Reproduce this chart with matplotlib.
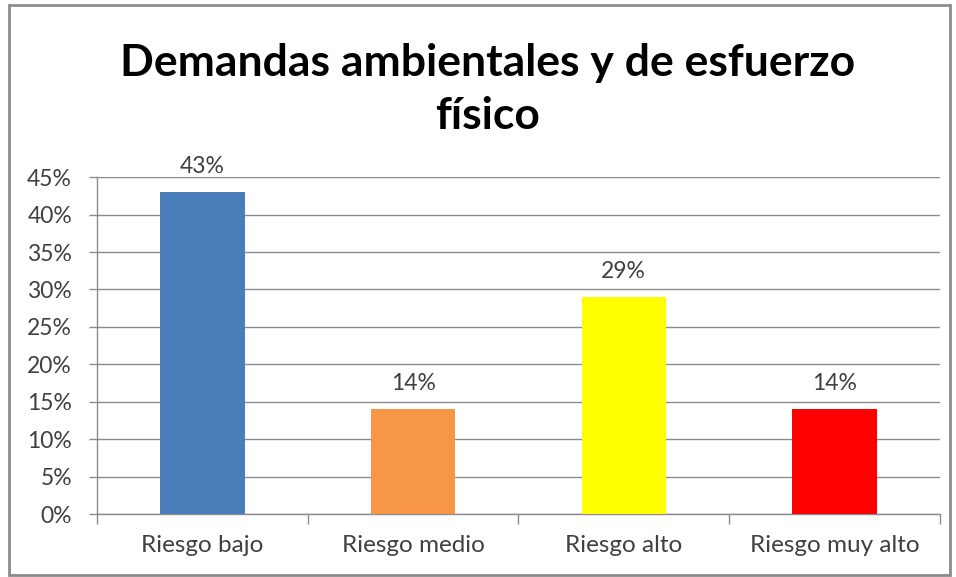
import matplotlib.pyplot as plt
from matplotlib.patches import Rectangle

categories = ["Riesgo bajo", "Riesgo medio", "Riesgo alto", "Riesgo muy alto"]
values = [43, 14, 29, 14]
colors = ["#4A7EBB", "#F79646", "#FFFF00", "#FF0000"]
title = "Demandas ambientales y de esfuerzo\nfísico"

plt.rcParams["font.family"] = ["Lato", "DejaVu Sans"]
text_color = "#404040"
grid_color = "#8C8C8C"
label_size = 16.5

fig = plt.figure(figsize=(9.56, 5.77), dpi=100)
ax = fig.add_axes([0.1015, 0.109, 0.8815, 0.584])

x = range(len(categories))
bars = ax.bar(x, values, width=0.4, color=colors, zorder=3)
for b, v in zip(bars, values):
    ax.annotate(f"{v}%", (b.get_x() + b.get_width() / 2, v),
                xytext=(0, 11), textcoords="offset points",
                ha="center", va="bottom", fontsize=label_size, color=text_color)

ax.set_xlim(-0.5, len(categories) - 0.5)
ax.set_ylim(0, 45)
ax.set_yticks(range(0, 46, 5))
ax.set_yticklabels([f"{t}%" for t in range(0, 46, 5)])
ax.set_xticks(list(x))
ax.set_xticklabels(categories)
ax.tick_params(axis="x", length=0, pad=15, labelsize=17.5, labelcolor=text_color)
ax.tick_params(axis="y", length=6, width=1, color=grid_color, pad=12,
               labelsize=label_size, labelcolor=text_color)
# boundary ticks between categories on the x axis
ax.set_xticks([i - 0.5 for i in range(len(categories) + 1)], minor=True)
ax.tick_params(axis="x", which="minor", length=7, width=1, color=grid_color)

ax.grid(axis="y", color=grid_color, linewidth=1, zorder=0)
for s in ["top", "right"]:
    ax.spines[s].set_visible(False)
for s in ["left", "bottom"]:
    ax.spines[s].set_color(grid_color)
    ax.spines[s].set_linewidth(1)

fig.text(0.51, 0.845, title, ha="center", va="center", fontsize=32,
         fontweight="bold", color="black", linespacing=1.42)

fig.patches.append(Rectangle((0.009, 0.004), 0.985, 0.988, transform=fig.transFigure,
                             fill=False, edgecolor="#8C8C8C", linewidth=2))

fig.savefig("out.png", dpi=100)
